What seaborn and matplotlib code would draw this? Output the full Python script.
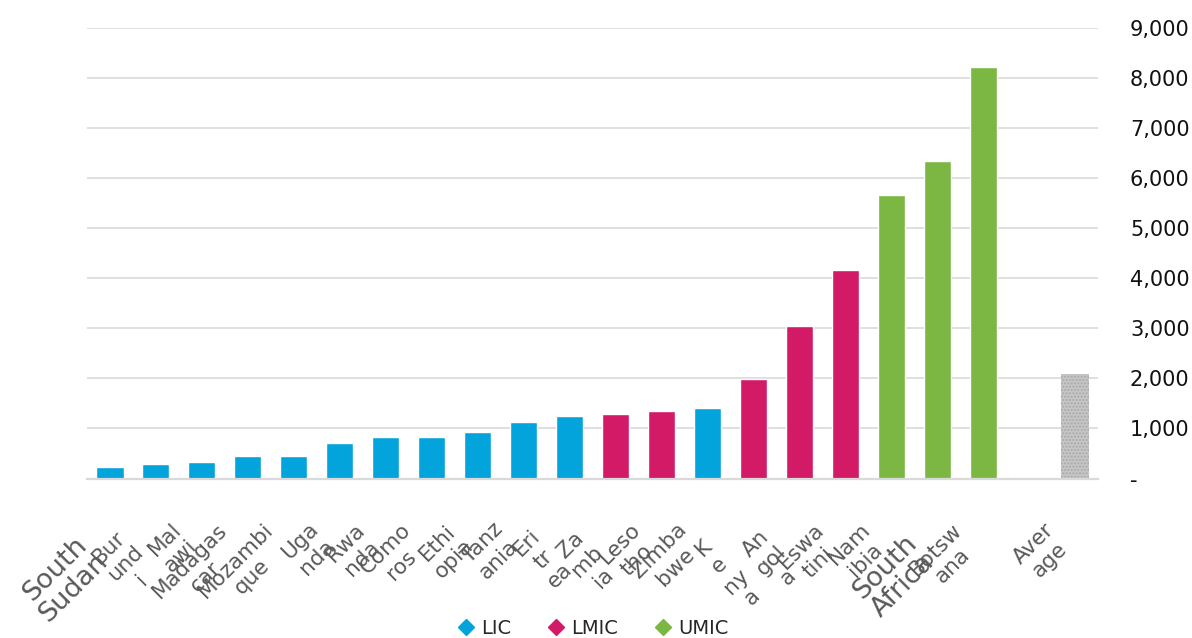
import numpy as np
import pandas as pd
import matplotlib
matplotlib.use('Agg')
import matplotlib.pyplot as plt
import matplotlib.transforms as mtransforms
from matplotlib.lines import Line2D
import seaborn as sns

# 数据
countries = ['South Sudan', 'Burundi', 'Malawi', 'Madagascar', 'Mozambique', 'Uganda',
             'Rwanda', 'Comoros', 'Ethiopia', 'Tanzania', 'Eritrea', 'Zambia', 'Lesotho',
             'Zimbabwe', 'Kenya', 'Angola', 'Eswatini', 'Namibia', 'South Africa',
             'Botswana', ' ', 'Average']
values = [235, 290, 335, 445, 445, 710, 820, 820, 925, 1130, 1245, 1290, 1350,
          1405, 1990, 3045, 4160, 5670, 6350, 8230, np.nan, 2080]
groups = ['LIC'] * 11 + ['LMIC', 'LMIC', 'LIC', 'LMIC', 'LMIC', 'LMIC',
                         'UMIC', 'UMIC', 'UMIC', 'Average', 'Average']
# x轴标签（保留原图中的换行方式）
tick_text = ['South\nSudan', 'Bur\nund\ni', 'Mal\nawi', 'Madagas\ncar', 'Mozambi\nque',
             'Uga\nnda', 'Rwa\nnda', 'Como\nros', 'Ethi\nopia', 'Tanz\nania', 'Eri\ntr\nea',
             'Za\nmb\nia', 'Leso\ntho', 'Zimba\nbwe', 'K\ne\nny\na', 'An\ngol\na',
             'Eswa\ntini', 'Nam\nibia', 'South\nAfrica', 'Botsw\nana', '', 'Aver\nage']
legend_groups = ['LIC', 'LMIC', 'UMIC']
yticks = [0, 1000, 2000, 3000, 4000, 5000, 6000, 7000, 8000, 9000]

palette = {'LIC': '#03a4db', 'LMIC': '#d31a67', 'UMIC': '#7cb744', 'Average': '#c6c6c6'}
big_labels = ['South Sudan', 'South Africa']

df = pd.DataFrame({'country': countries, 'value': values, 'group': groups})

sns.set_style('white')
plt.rcParams['font.family'] = ['DejaVu Sans']

fig = plt.figure(figsize=(11.92, 6.38), dpi=100)
ax = fig.add_axes([87 / 1192, 1 - 478.5 / 638, (1098 - 87) / 1192, (478.5 - 28) / 638])

sns.barplot(data=df, x='country', y='value', hue='group', order=countries,
            hue_order=['LIC', 'LMIC', 'UMIC', 'Average'], palette=palette,
            dodge=False, width=0.59, legend=False, ax=ax, saturation=1)

# 平均值柱子用灰色纹理
for p in ax.patches:
    if abs(p.get_x() + p.get_width() / 2 - countries.index('Average')) < 0.1:
        p.set_hatch('.....')
        p.set_edgecolor('#a9a9a9')
        p.set_linewidth(0)

ax.set_xlim(-0.5, len(countries) - 0.5)
ax.set_ylim(0, 9000)
ax.set_xlabel('')
ax.set_ylabel('')

# y轴放在右侧
ax.yaxis.tick_right()
ax.set_yticks(yticks)
ax.set_yticklabels(['-' if v == 0 else f'{v:,}' for v in yticks], fontsize=15, color='#111111')
ax.tick_params(axis='y', length=0, pad=23)
ax.grid(axis='y', color='#d9d9d9', linewidth=1.2)
ax.set_axisbelow(True)

for s in ['top', 'left', 'right']:
    ax.spines[s].set_visible(False)
ax.spines['bottom'].set_color('#d9d9d9')
ax.spines['bottom'].set_linewidth(1.6)

# x轴刻度在类别之间
ax.set_xticks(np.arange(len(countries)))
ax.set_xticklabels([])
ax.tick_params(axis='x', which='major', length=0)
ax.set_xticks(np.arange(len(countries) + 1) - 0.5, minor=True)
ax.tick_params(axis='x', which='minor', length=6, width=1.6, color='#d9d9d9')

# 旋转的x轴标签（文字块右侧中点放在刻度左下方）
trans_base = ax.get_xaxis_transform()
for i, (name, txt) in enumerate(zip(countries, tick_text)):
    if not txt:
        continue
    nlines = txt.count('\n') + 1
    if name in big_labels:
        dx, dy, fs, ls = -15, 70, 19.5, 1.0
    else:
        dx, dy, fs, ls = -16, 27 + 14.5 * nlines, 15.5, 1.2
    offset = mtransforms.ScaledTranslation(dx / 100, -dy / 100, fig.dpi_scale_trans)
    ax.text(i, 0, txt, transform=trans_base + offset, rotation=45,
            rotation_mode='anchor', ha='right', va='center', multialignment='center',
            fontsize=fs, color='#595959', linespacing=ls)

# 图例
handles = [Line2D([0], [0], marker='D', linestyle='none', markersize=8,
                  markerfacecolor=palette[g], markeredgecolor=palette[g]) for g in legend_groups]
fig.legend(handles, legend_groups, loc='lower center', bbox_to_anchor=(0.497, -0.027),
           ncol=3, frameon=False, fontsize=14, handlelength=1.0, handletextpad=0.3,
           columnspacing=1.8)

fig.savefig('out.png', dpi=100)
